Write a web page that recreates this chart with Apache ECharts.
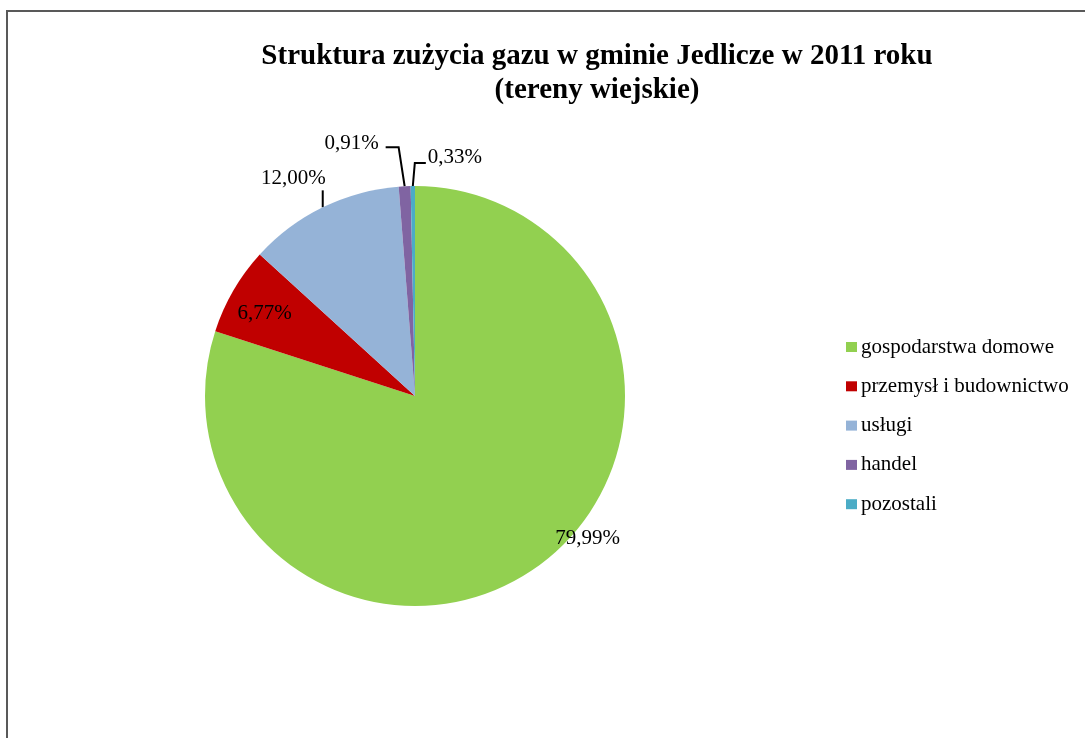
<!DOCTYPE html>
<html>
<head>
<meta charset="utf-8">
<script src="https://cdn.jsdelivr.net/npm/echarts@6/dist/echarts.min.js"></script>
<style>
  html, body { margin: 0; padding: 0; background: #fff; }
  #chart { width: 1085px; height: 738px; }
</style>
</head>
<body>
<div id="chart"></div>
<script>
// Gas consumption structure, rural areas of Jedlicze commune, 2011
const titleLines = ['Struktura zużycia gazu w gminie Jedlicze w 2011 roku', '(tereny wiejskie)'];
const categories = ['gospodarstwa domowe', 'przemysł i budownictwo', 'usługi', 'handel', 'pozostali'];
const shares = [79.99, 6.77, 12.00, 0.91, 0.33];
const colors = ['#92D050', '#C00000', '#95B3D7', '#8064A2', '#4BACC6'];

const serif = '"Liberation Serif", "DejaVu Serif", serif';
const fmt = v => v.toFixed(2).replace('.', ',') + '%';

const pieData = categories.map((name, i) => ({
  name: name,
  value: shares[i],
  itemStyle: { color: colors[i] },
  label: { position: i < 2 ? 'inside' : 'outside' },
  labelLine: { show: i >= 2 }
}));

const chart = echarts.init(document.getElementById('chart'), null, { renderer: 'canvas' });

chart.setOption({
  backgroundColor: '#ffffff',
  animation: false,
  graphic: [
    {
      type: 'rect', z: -10, silent: true,
      shape: { x: 7, y: 11, width: 1300, height: 1000 },
      style: { fill: 'none', stroke: '#595959', lineWidth: 2 }
    },
    {
      type: 'text', silent: true,
      x: 597, y: 57,
      style: { text: titleLines[0], font: 'bold 29px ' + serif, fill: '#000', textAlign: 'center', textVerticalAlign: 'middle' }
    },
    {
      type: 'text', silent: true,
      x: 597, y: 91,
      style: { text: titleLines[1], font: 'bold 29px ' + serif, fill: '#000', textAlign: 'center', textVerticalAlign: 'middle' }
    }
  ],
  legend: {
    orient: 'vertical',
    left: 841,
    top: 331,
    icon: 'rect',
    itemWidth: 11,
    itemHeight: 10,
    itemGap: 17.3,
    data: categories,
    textStyle: { fontFamily: serif, fontSize: 21, color: '#000', lineHeight: 22, padding: [0, 0, 0, -1] }
  },
  series: [{
    type: 'pie',
    center: [415, 396],
    radius: 210,
    startAngle: 90,
    clockwise: true,
    avoidLabelOverlap: false,
    data: pieData,
    label: {
      formatter: p => fmt(p.value),
      fontFamily: serif,
      fontSize: 21,
      color: '#000'
    },
    labelLine: {
      show: true,
      length: 15,
      length2: 10,
      lineStyle: { color: '#000', width: 2 }
    },
    emphasis: { disabled: true },
    labelLayout: function (p) {
      const i = p.dataIndex;
      if (i === 0) return { dx: 109, dy: 55 };
      if (i === 1) return { dx: -57, dy: -28 };
      const pts = p.labelLinePoints;
      if (!pts) return {};
      const e = pts[0];
      if (i === 2) {
        return {
          x: e[0] + 3, y: e[1] - 18, align: 'right', verticalAlign: 'bottom',
          labelLinePoints: [e, [e[0], e[1] - 17], [e[0], e[1] - 17]]
        };
      }
      if (i === 3) {
        return {
          x: e[0] - 26, y: e[1] - 43, align: 'right', verticalAlign: 'middle',
          labelLinePoints: [e, [e[0] - 6, e[1] - 39], [e[0] - 19, e[1] - 39]]
        };
      }
      return {
        x: e[0] + 15, y: e[1] - 29, align: 'left', verticalAlign: 'middle',
        labelLinePoints: [e, [e[0] + 2, e[1] - 23], [e[0] + 13, e[1] - 23]]
      };
    }
  }]
});
</script>
</body>
</html>
